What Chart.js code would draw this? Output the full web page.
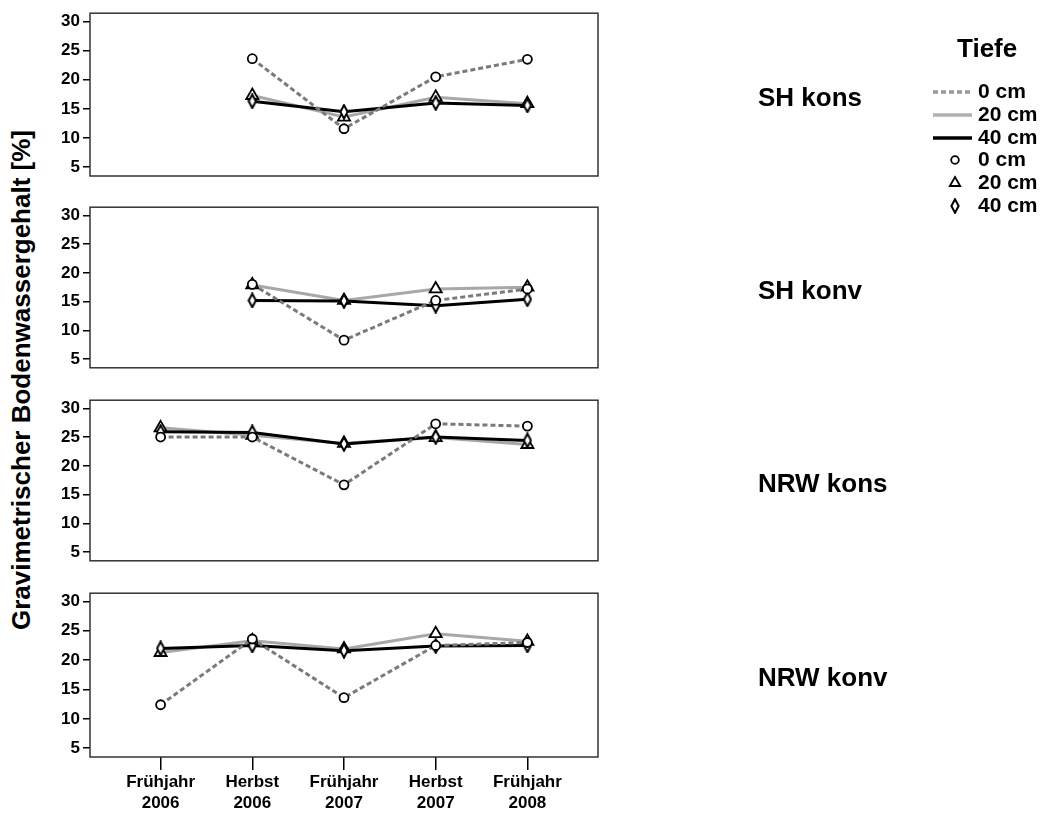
<!DOCTYPE html>
<html>
<head>
<meta charset="utf-8">
<title>Gravimetrischer Bodenwassergehalt</title>
<script src="https://cdn.jsdelivr.net/npm/chart.js@4.4.1/dist/chart.umd.min.js"></script>
<style>
    body {
        margin: 0;
        background: #fff;
        width: 1048px;
        height: 814px;
        position: relative;
        overflow: hidden;
        font-family: 'Liberation Sans', Arial, sans-serif;
    }
    canvas.panel {
        position: absolute;
        left: 0;
    }
    #yTitle {
        position: absolute;
        left: 21px;
        top: 380px;
        transform: translate(-50%, -50%) rotate(-90deg);
        font-weight: bold;
        font-size: 26px;
        white-space: nowrap;
        color: #000;
    }
</style>
</head>
<body>
<div id="yTitle">Gravimetrischer Bodenwassergehalt [%]</div>

<script>
// Chart data
const categories = ['Frühjahr 2006', 'Herbst 2006', 'Frühjahr 2007', 'Herbst 2007', 'Frühjahr 2008'];
const yTicks = [5, 10, 15, 20, 25, 30];
const depthLabels = ['0 cm', '20 cm', '40 cm'];
const panelNames = ['SH kons', 'SH konv', 'NRW kons', 'NRW konv'];

// SH kons
const shKons0 = [null, 23.6, 11.6, 20.5, 23.5];
const shKons20 = [null, 17.3, 13.6, 17.0, 15.9];
const shKons40 = [null, 16.3, 14.5, 16.0, 15.6];

// SH konv
const shKonv0 = [null, 18.0, 8.3, 15.2, 17.2];
const shKonv20 = [null, 17.9, 15.2, 17.2, 17.5];
const shKonv40 = [null, 15.2, 15.1, 14.3, 15.4];

// NRW kons
const nrwKons0 = [25.0, 25.0, 16.7, 27.3, 26.9];
const nrwKons20 = [26.6, 25.3, 23.9, 24.9, 23.7];
const nrwKons40 = [25.9, 25.8, 23.8, 25.0, 24.4];

// NRW konv
const nrwKonv0 = [12.4, 23.6, 13.6, 22.5, 23.0];
const nrwKonv20 = [21.3, 23.3, 21.9, 24.5, 23.2];
const nrwKonv40 = [22.0, 22.5, 21.6, 22.4, 22.5];

const panelSeries = [
    [shKons0, shKons20, shKons40],
    [shKonv0, shKonv20, shKonv40],
    [nrwKons0, nrwKons20, nrwKons40],
    [nrwKonv0, nrwKonv20, nrwKonv40]
];

// Page layout: canvas top/height and padding so the plot boxes line up
const panelLayout = [
    { top: 0, height: 230, padTop: 13, padBottom: 54 },
    { top: 194, height: 187, padTop: 12, padBottom: 12 },
    { top: 387, height: 187, padTop: 12, padBottom: 12 },
    { top: 580, height: 234, padTop: 12, padBottom: 0 }
];

const FONT = "'Liberation Sans', Arial, sans-serif";

// Narrow diamond marker for 40 cm
const diamond = document.createElement('canvas');
diamond.width = 10;
diamond.height = 16;
(function () {
    const d = diamond.getContext('2d');
    d.beginPath();
    d.moveTo(5, 1.2);
    d.lineTo(8.6, 8);
    d.lineTo(5, 14.8);
    d.lineTo(1.4, 8);
    d.closePath();
    d.fillStyle = '#fff';
    d.fill();
    d.lineWidth = 2;
    d.strokeStyle = '#000';
    d.stroke();
})();

const depthStyles = [
    { color: '#7a7a7a', legendColor: '#9a9a9a', dash: [5, 3], point: 'circle', radius: 4.5, order: 0 },
    { color: '#a8a8a8', legendColor: '#b0b0b0', dash: [], point: 'triangle', radius: 7, order: 2 },
    { color: '#000000', legendColor: '#000000', dash: [], point: diamond, radius: 6, order: 1 }
];

// Frame around each plot area plus the panel name on the right
const framePlugin = {
    id: 'frame',
    afterDraw(chart) {
        const { ctx, chartArea } = chart;
        ctx.save();
        ctx.strokeStyle = '#333';
        ctx.lineWidth = 1.5;
        ctx.strokeRect(chartArea.left, chartArea.top, chartArea.right - chartArea.left, chartArea.bottom - chartArea.top);
        ctx.fillStyle = '#000';
        ctx.font = 'bold 26px ' + FONT;
        ctx.textAlign = 'left';
        ctx.textBaseline = 'middle';
        ctx.fillText(chart.options.plugins.frame.name, 758, (chartArea.top + chartArea.bottom) / 2 + 4);
        ctx.restore();
    }
};

// Legend "Tiefe" drawn on the first panel's canvas
const tiefeLegend = {
    id: 'tiefeLegend',
    afterDraw(chart) {
        const ctx = chart.ctx;
        const rows = [92, 115, 138, 160, 183, 206];
        ctx.save();
        ctx.fillStyle = '#000';
        ctx.textAlign = 'left';
        ctx.textBaseline = 'middle';
        ctx.font = 'bold 26px ' + FONT;
        ctx.fillText('Tiefe', 957, 50);
        ctx.font = 'bold 21px ' + FONT;

        depthLabels.forEach((label, i) => {
            const st = depthStyles[i];
            ctx.beginPath();
            ctx.setLineDash(st.dash);
            ctx.strokeStyle = st.legendColor;
            ctx.lineWidth = 3.5;
            ctx.moveTo(933, rows[i]);
            ctx.lineTo(972, rows[i]);
            ctx.stroke();
            ctx.setLineDash([]);
            ctx.fillStyle = '#000';
            ctx.fillText(label, 978, rows[i]);
        });

        depthLabels.forEach((label, i) => {
            const st = depthStyles[i];
            const y = rows[i + 3];
            ctx.strokeStyle = '#000';
            ctx.fillStyle = '#fff';
            ctx.lineWidth = 1.8;
            Chart.helpers.drawPoint(ctx, {
                pointStyle: st.point,
                radius: st.radius * 0.85,
                rotation: 0,
                borderWidth: 1.8
            }, 955, y);
            ctx.fillStyle = '#000';
            ctx.fillText(label, 978, y);
        });
        ctx.restore();
    }
};

function buildDatasets(series) {
    return series.map((values, i) => {
        const st = depthStyles[i];
        return {
            label: depthLabels[i],
            data: values.map((v, idx) => ({ x: idx, y: v })),
            borderColor: st.color,
            borderWidth: 3,
            borderDash: st.dash,
            pointStyle: st.point,
            pointRadius: st.radius,
            pointBorderColor: '#000',
            pointBackgroundColor: '#fff',
            pointBorderWidth: 1.8,
            tension: 0,
            spanGaps: false,
            order: st.order
        };
    });
}

function createPanel(index) {
    const layout = panelLayout[index];
    const isLast = index === panelLayout.length - 1;

    const canvas = document.createElement('canvas');
    canvas.className = 'panel';
    canvas.width = 1048;
    canvas.height = layout.height;
    canvas.style.top = layout.top + 'px';
    document.body.appendChild(canvas);

    const plugins = [framePlugin];
    if (index === 0) plugins.push(tiefeLegend);

    return new Chart(canvas, {
        type: 'line',
        data: { datasets: buildDatasets(panelSeries[index]) },
        options: {
            responsive: false,
            animation: false,
            devicePixelRatio: 1,
            layout: {
                padding: { left: 0, right: 450, top: layout.padTop, bottom: layout.padBottom }
            },
            plugins: {
                legend: { display: false },
                tooltip: { enabled: false },
                frame: { name: panelNames[index] }
            },
            scales: {
                x: {
                    type: 'linear',
                    display: isLast,
                    min: -0.77,
                    max: 4.77,
                    afterBuildTicks: scale => {
                        scale.ticks = categories.map((c, i) => ({ value: i }));
                    },
                    afterFit: scale => {
                        // only the bottom panel shows the category axis
                        scale.height = isLast ? 57 : 0;
                    },
                    ticks: {
                        autoSkip: false,
                        maxRotation: 0,
                        padding: 2,
                        color: '#000',
                        font: { family: FONT, size: 17, weight: 'bold', lineHeight: 1.22 },
                        callback: value => categories[value].split(' ')
                    },
                    grid: {
                        drawOnChartArea: false,
                        drawTicks: true,
                        tickLength: 13,
                        color: '#000',
                        lineWidth: 1.5
                    },
                    border: { display: false }
                },
                y: {
                    min: 3.5,
                    max: 31.4,
                    afterBuildTicks: scale => {
                        scale.ticks = yTicks.map(v => ({ value: v }));
                    },
                    afterFit: scale => {
                        scale.width = 90;
                    },
                    ticks: {
                        autoSkip: false,
                        padding: 3,
                        color: '#000',
                        font: { family: FONT, size: 17, weight: 'bold' }
                    },
                    grid: {
                        drawOnChartArea: false,
                        drawTicks: true,
                        tickLength: 7,
                        color: '#000',
                        lineWidth: 1.5
                    },
                    border: { display: false }
                }
            }
        },
        plugins: plugins
    });
}

document.addEventListener('DOMContentLoaded', () => {
    panelLayout.forEach((p, i) => createPanel(i));
});
</script>
</body>
</html>
